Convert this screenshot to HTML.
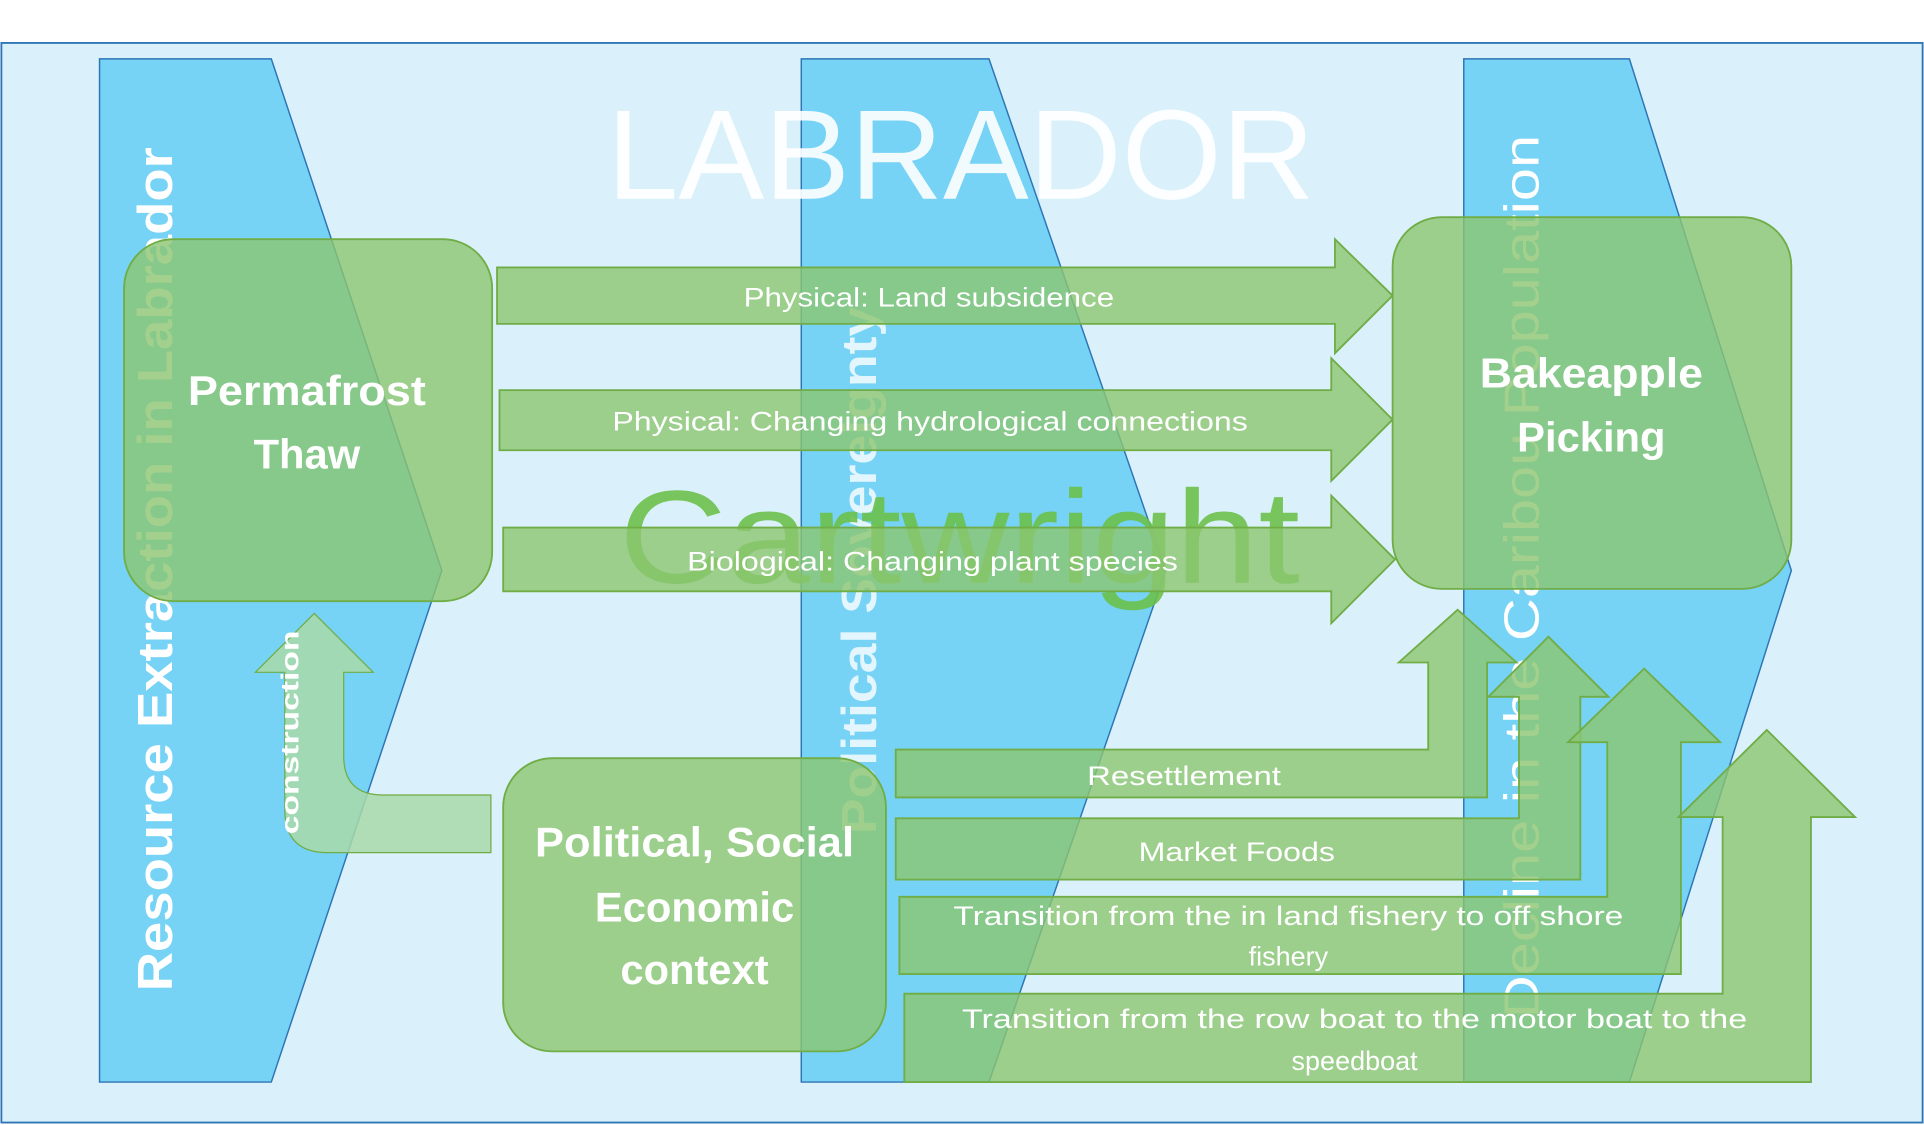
<!DOCTYPE html>
<html><head><meta charset="utf-8"><style>html,body{margin:0;padding:0;background:#fff}svg{display:block}</style></head>
<body>
<svg width="1924" height="1125" viewBox="0 0 1568 917" xmlns="http://www.w3.org/2000/svg" font-family="Liberation Sans, sans-serif">
<rect x="1" y="35" width="1566" height="880" fill="#daf1fb" stroke="#2e75b6" stroke-width="1.5"/>
<g fill="#76d3f5" stroke="#2e75b6" stroke-width="1.2">
<polygon points="81,48 221,48 360,465 221,882 81,882"/>
<polygon points="653,48 806,48 950,465 806,882 653,882"/>
<polygon points="1193,48 1328,48 1460,465 1328,882 1193,882"/>
</g>
<text x="783" y="162" text-anchor="middle" font-size="104" fill="#fff" fill-opacity="0.9" textLength="577" lengthAdjust="spacingAndGlyphs">LABRADOR</text>
<text transform="translate(140,464) rotate(-90)" text-anchor="middle" font-size="40" font-weight="bold" fill="#fff" textLength="688" lengthAdjust="spacingAndGlyphs">Resource Extraction in Labrador</text>
<text transform="translate(714,465) rotate(-90)" text-anchor="middle" font-size="40" font-weight="bold" fill="#fff" fill-opacity="0.8" textLength="430" lengthAdjust="spacingAndGlyphs">Political Sovereignty</text>
<text transform="translate(1254,470) rotate(-90)" text-anchor="middle" font-size="40" fill="#fff" textLength="720" lengthAdjust="spacingAndGlyphs">Decline in the Caribou Population</text>
<text x="782" y="475" text-anchor="middle" font-size="108" fill="#6cc04a" fill-opacity="0.9" textLength="555" lengthAdjust="spacingAndGlyphs">Cartwright</text>
<g fill="#8cc570" fill-opacity="0.8" stroke="#70ad47" stroke-width="1.5">
<rect x="101" y="195" width="300" height="295" rx="40"/>
<rect x="1135" y="177" width="325" height="303" rx="40"/>
<rect x="410" y="618" width="312" height="239" rx="40"/>
<polygon points="405,218 1088,218 1088,195 1135,241 1088,288 1088,264 405,264"/>
<polygon points="407,318 1085,318 1085,292 1135,342 1085,392 1085,367 407,367"/>
<polygon points="410,430 1085,430 1085,404 1137,456 1085,508 1085,482 410,482"/>
<polygon points="730,611 1164,611 1164,540 1140,540 1188,497 1236,540 1212,540 1212,650 730,650"/>
<polygon points="730,667 1238,667 1238,568 1213,568 1262,519 1311,568 1288,568 1288,717 730,717"/>
<polygon points="733,731 1310,731 1310,605 1278,605 1340,545 1402,605 1370,605 1370,794 733,794"/>
<polygon points="737,810 1404,810 1404,666 1368,666 1440,595 1512,666 1476,666 1476,882 737,882"/>
</g>
<path d="M400,648 L312,648 Q280,648 280,616 L280,548 L304,548 L256,500 L208,548 L232,548 L232,660 Q232,695 267,695 L400,695 Z" fill="#a8d9a8" fill-opacity="0.85" stroke="#70ad47" stroke-width="1"/>
<text transform="translate(243,597) rotate(-90)" text-anchor="middle" font-size="20" font-weight="bold" fill="#fff" textLength="166" lengthAdjust="spacingAndGlyphs">construction</text>
<g fill="#fff" font-weight="bold" font-size="34" text-anchor="middle">
<text x="250" y="330" textLength="194" lengthAdjust="spacingAndGlyphs">Permafrost</text><text x="250" y="382">Thaw</text>
<text x="1297" y="316" textLength="182" lengthAdjust="spacingAndGlyphs">Bakeapple</text><text x="1297" y="368">Picking</text>
<text x="566" y="698" textLength="260" lengthAdjust="spacingAndGlyphs">Political, Social</text><text x="566" y="751">Economic</text><text x="566" y="802">context</text>
</g>
<g fill="#fff" font-size="22" text-anchor="middle">
<text x="757" y="250" textLength="302" lengthAdjust="spacingAndGlyphs">Physical: Land subsidence</text>
<text x="758" y="351" textLength="518" lengthAdjust="spacingAndGlyphs">Physical: Changing hydrological connections</text>
<text x="760" y="465" textLength="400" lengthAdjust="spacingAndGlyphs">Biological: Changing plant species</text>
<text x="965" y="640" textLength="158" lengthAdjust="spacingAndGlyphs">Resettlement</text>
<text x="1008" y="702" textLength="160" lengthAdjust="spacingAndGlyphs">Market Foods</text>
<text x="1050" y="754" textLength="546" lengthAdjust="spacingAndGlyphs">Transition from the in land fishery to off shore</text>
<text x="1050" y="787">fishery</text>
<text x="1104" y="838" textLength="640" lengthAdjust="spacingAndGlyphs">Transition from the row boat to the motor boat to the</text>
<text x="1104" y="872">speedboat</text>
</g>
</svg>
</body></html>
